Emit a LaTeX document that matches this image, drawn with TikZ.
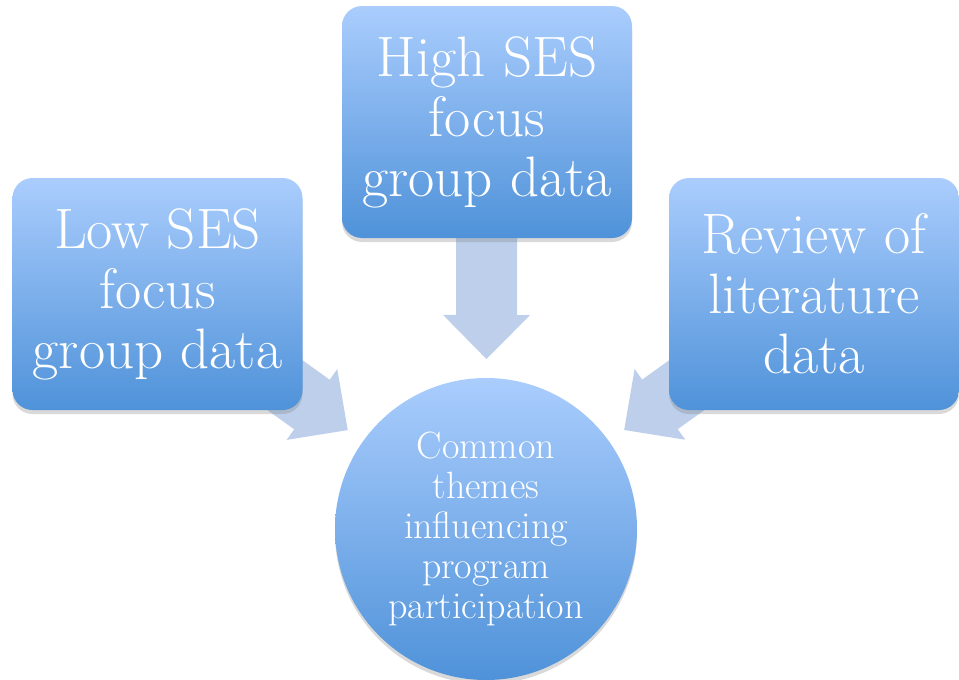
\documentclass[tikz,border=0pt]{standalone}
\usepackage{fontspec}
\usetikzlibrary{shadows,calc,backgrounds}
\definecolor{boxtop}{RGB}{170,205,253}
\definecolor{boxbot}{RGB}{79,146,217}
\definecolor{arrowc}{RGB}{189,207,235}
\begin{document}
\begin{tikzpicture}[x=1pt,y=-1pt,
  srcbox/.style={rectangle, rounded corners=20pt, minimum width=290pt, minimum height=232pt,
    inner sep=0pt, top color=boxtop, bottom color=boxbot, draw=none, text=white, align=center,
    font=\fontsize{57}{60}\selectfont,
    drop shadow={opacity=0.3, shadow xshift=0pt, shadow yshift=-4pt}},
  hub/.style={circle, minimum size=302pt, inner sep=0pt, top color=boxtop, bottom color=boxbot,
    draw=none, text=white, align=center, font=\fontsize{38}{40}\selectfont,
    drop shadow={opacity=0.3, shadow xshift=0pt, shadow yshift=-4pt}},
  flowfill/.style={fill=arrowc, draw=none}]
\useasboundingbox (0,0) rectangle (959,680);

\node[srcbox] (low) at (157.5,294) {Low SES\\focus\\group data};
\node[srcbox] (high) at (487,122) {High SES\\focus\\group data};
\node[srcbox] (lit) at (814,294) {Review of\\literature\\data};
\node[hub] (hubc) at (486,529) {Common\\themes\\influencing\\program\\participation};

\begin{scope}[on background layer]
  \foreach \src/\nm in {low/a, high/b, lit/c} {
    \coordinate (t\nm) at ($(hubc.center)!170pt!(\src.center)$);
    \coordinate (h\nm) at ($(t\nm)!44pt!(\src.center)$);
    \fill[flowfill]
      ($(\src.center)!30.5pt!90:(t\nm)$) --
      ($(h\nm)!30.5pt!90:(t\nm)$) --
      ($(h\nm)!43.5pt!90:(t\nm)$) --
      (t\nm) --
      ($(h\nm)!43.5pt!-90:(t\nm)$) --
      ($(h\nm)!30.5pt!-90:(t\nm)$) --
      ($(\src.center)!30.5pt!-90:(t\nm)$) -- cycle;
  }
\end{scope}
\end{tikzpicture}
\end{document}
